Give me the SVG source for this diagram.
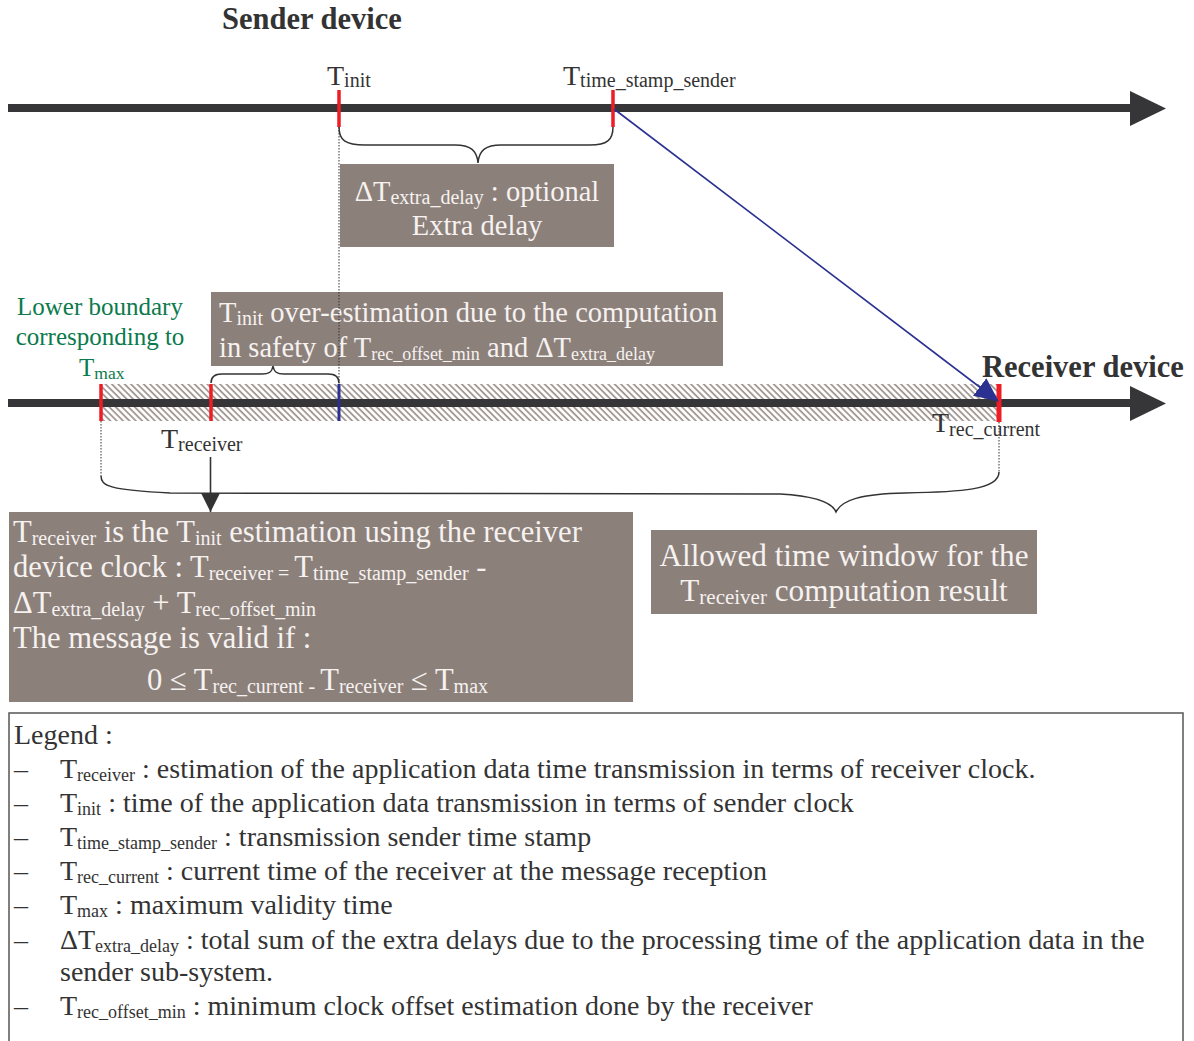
<svg xmlns="http://www.w3.org/2000/svg" width="1194" height="1041" viewBox="0 0 1194 1041">
<style>
text{font-family:"Liberation Serif","Times New Roman",serif;fill:#333;}
.hdr{font-size:30.5px;font-weight:bold;}
.lbl{font-size:28px;}
.sub{font-size:20px;}
.ssub{font-size:18px;}
.lsub{font-size:18px;}
.box{fill:#8c807b;}
.bt{fill:#f6f2f0;font-size:28.5px;}
.bt3{fill:#f6f2f0;font-size:30.6px;}
.bt4{fill:#f6f2f0;font-size:31.2px;}
.grn{fill:#0b7a4c;font-size:25px;}
.axis{stroke:#363538;stroke-width:8;}
.tick{stroke:#ee1c25;stroke-width:3.5;}
.brace{fill:none;stroke:#333;stroke-width:1.5;}
.dot{stroke:#333;stroke-width:1;stroke-dasharray:1.5 1.5;}
.leg{font-size:28px;}
</style>
<defs>
<pattern id="hatch" patternUnits="userSpaceOnUse" width="4.5" height="4.5" patternTransform="rotate(-45)">
<line x1="1" y1="0" x2="1" y2="4.5" stroke="#9d918c" stroke-width="1.7"/>
</pattern>
<marker id="blueArrow" markerWidth="24" markerHeight="22" refX="23" refY="11" orient="auto" markerUnits="userSpaceOnUse">
<path d="M0,0 L24,11 L0,22 Z" fill="#2b3190"/>
</marker>
<marker id="blackArrow" markerWidth="20" markerHeight="20" refX="19" refY="10" orient="auto" markerUnits="userSpaceOnUse">
<path d="M0,0.5 L19,10 L0,19.5 Z" fill="#333"/>
</marker>
</defs>

<g id="sender-axis">
<line class="axis" x1="8" y1="108" x2="1132" y2="108"/>
<path d="M1130,91 L1166,108.5 L1130,126 Z" fill="#363538"/>
<text class="hdr" x="222" y="29">Sender device</text>
</g>

<g id="receiver-axis">
<rect x="101" y="384" width="897" height="37" fill="url(#hatch)"/>
<line class="axis" x1="8" y1="403" x2="1132" y2="403"/>
<path d="M1130,386 L1166,403.5 L1130,421 Z" fill="#363538"/>
<text class="hdr" x="982" y="377">Receiver device</text>
</g>

<g id="t-init">
<line class="tick" x1="339" y1="90" x2="339" y2="127"/>
<text class="lbl" x="327" y="85">T<tspan class="sub" dy="2">init</tspan></text>
</g>

<g id="t-time-stamp-sender">
<line class="tick" x1="613" y1="90" x2="613" y2="127"/>
<text class="lbl" x="563" y="85">T<tspan class="sub" dy="2">time_stamp_sender</tspan></text>
</g>

<g id="t-max">
<line class="tick" x1="101" y1="384" x2="101" y2="421"/>
<text class="grn" text-anchor="middle" x="100" y="315">Lower boundary</text>
<text class="grn" text-anchor="middle" x="100" y="345">corresponding to</text>
<text class="grn" x="79" y="376">T<tspan font-size="17.5" dy="3">max</tspan></text>
</g>

<g id="t-receiver">
<line class="tick" x1="211" y1="384" x2="211" y2="421"/>
<text class="lbl" x="161" y="448">T<tspan class="sub" dy="3">receiver</tspan></text>
</g>

<g id="t-init-receiver">
<line x1="339" y1="384" x2="339" y2="421" stroke="#2b3190" stroke-width="3"/>
</g>

<g id="t-rec-current">
<line x1="999" y1="384" x2="999" y2="422" stroke="#ee1c25" stroke-width="5"/>
<text class="lbl" x="932" y="432">T<tspan class="sub" dy="4">rec_current</tspan></text>
</g>

<g id="box-extra-delay">
<rect class="box" x="340" y="164" width="274" height="83"/>
<text class="bt" text-anchor="middle" x="477" y="201">ΔT<tspan class="sub" dy="3">extra_delay</tspan><tspan dy="-3"> : optional</tspan></text>
<text class="bt" text-anchor="middle" x="477" y="235">Extra delay</text>
</g>

<g id="box-overestimation">
<rect class="box" x="211" y="292" width="512" height="74"/>
<text class="bt" x="219" y="322">T<tspan class="sub" dy="3">init</tspan><tspan dy="-3"> over-estimation due to the computation</tspan></text>
<text class="bt" x="219" y="357">in safety of T<tspan class="ssub" dy="3">rec_offset_min</tspan><tspan dy="-3"> and ΔT</tspan><tspan class="ssub" dy="3">extra_delay</tspan></text>
</g>

<g id="box-receiver-formula">
<rect class="box" x="9" y="512" width="624" height="190"/>
<text class="bt3" x="13" y="542">T<tspan class="sub" dy="3">receiver</tspan><tspan dy="-3"> is the T</tspan><tspan class="sub" dy="3">init</tspan><tspan dy="-3"> estimation using the receiver</tspan></text>
<text class="bt3" x="13" y="577">device clock : T<tspan class="sub" dy="3">receiver = </tspan><tspan dy="-3">T</tspan><tspan class="sub" dy="3">time_stamp_sender</tspan><tspan dy="-3"> -</tspan></text>
<text class="bt3" x="13" y="613">ΔT<tspan class="sub" dy="3">extra_delay</tspan><tspan dy="-3"> + T</tspan><tspan class="sub" dy="3">rec_offset_min</tspan></text>
<text class="bt3" x="13" y="648">The message is valid if :</text>
<text class="bt3" x="147" y="690">0 ≤ T<tspan class="sub" dy="3">rec_current - </tspan><tspan dy="-3">T</tspan><tspan class="sub" dy="3">receiver</tspan><tspan dy="-3"> ≤ T</tspan><tspan class="sub" dy="3">max</tspan></text>
</g>

<g id="box-time-window">
<rect class="box" x="651" y="530" width="386" height="84"/>
<text class="bt4" text-anchor="middle" x="844" y="566">Allowed time window for the</text>
<text class="bt4" text-anchor="middle" x="844" y="601">T<tspan font-size="21" dy="3">receiver</tspan><tspan dy="-3"> computation result</tspan></text>
</g>

<g id="connectors">
<line class="dot" x1="339" y1="127" x2="339" y2="384"/>
<line class="dot" x1="101" y1="421" x2="101" y2="476"/>
<line class="dot" x1="999" y1="422" x2="999" y2="472"/>
<path class="brace" d="M339,127 C339,140 345,145 365,145 L455,145 C470,145 477,150 478,163 C479,150 486,145 501,145 L590,145 C607,145 613,140 613,127"/>
<path class="brace" d="M211,383 C211,377 214,374 222,374 L262,374 C269,374 272,372 273,366 C274,372 277,374 284,374 L328,374 C336,374 339,377 339,383"/>
<path class="brace" d="M101,476 C101,486 110,490 170,493 L780,494 C815,496 832,502 836,512 C842,500 860,494 905,493 C960,492 999,490 999,472"/>
<line x1="614" y1="109" x2="998" y2="401" stroke="#2b3190" stroke-width="1.6" marker-end="url(#blueArrow)"/>
<line x1="210.5" y1="457" x2="210.5" y2="512" stroke="#333" stroke-width="1.6" marker-end="url(#blackArrow)"/>
</g>

<g id="legend">
<rect x="9" y="713" width="1174" height="340" fill="none" stroke="#555" stroke-width="1.5"/>
<text class="leg" x="14" y="744">Legend :</text>
<text class="leg" x="14" y="778">–</text>
<text class="leg" x="60" y="778">T<tspan class="lsub" dy="3">receiver</tspan><tspan dy="-3"> : estimation of the application data time transmission in terms of receiver clock.</tspan></text>
<text class="leg" x="14" y="812">–</text>
<text class="leg" x="60" y="812">T<tspan class="lsub" dy="3">init</tspan><tspan dy="-3"> : time of the application data transmission in terms of sender clock</tspan></text>
<text class="leg" x="14" y="846">–</text>
<text class="leg" x="60" y="846">T<tspan class="lsub" dy="3">time_stamp_sender</tspan><tspan dy="-3"> : transmission sender time stamp</tspan></text>
<text class="leg" x="14" y="880">–</text>
<text class="leg" x="60" y="880">T<tspan class="lsub" dy="3">rec_current</tspan><tspan dy="-3"> : current time of the receiver at the message reception</tspan></text>
<text class="leg" x="14" y="914">–</text>
<text class="leg" x="60" y="914">T<tspan class="lsub" dy="3">max</tspan><tspan dy="-3"> : maximum validity time</tspan></text>
<text class="leg" x="14" y="949">–</text>
<text class="leg" x="60" y="949">ΔT<tspan class="lsub" dy="3">extra_delay</tspan><tspan dy="-3"> : total sum of the extra delays due to the processing time of the application data in the</tspan></text>
<text class="leg" x="60" y="981">sender sub-system.</text>
<text class="leg" x="14" y="1015">–</text>
<text class="leg" x="60" y="1015">T<tspan class="lsub" dy="3">rec_offset_min</tspan><tspan dy="-3"> : minimum clock offset estimation done by the receiver</tspan></text>
</g>
</svg>
